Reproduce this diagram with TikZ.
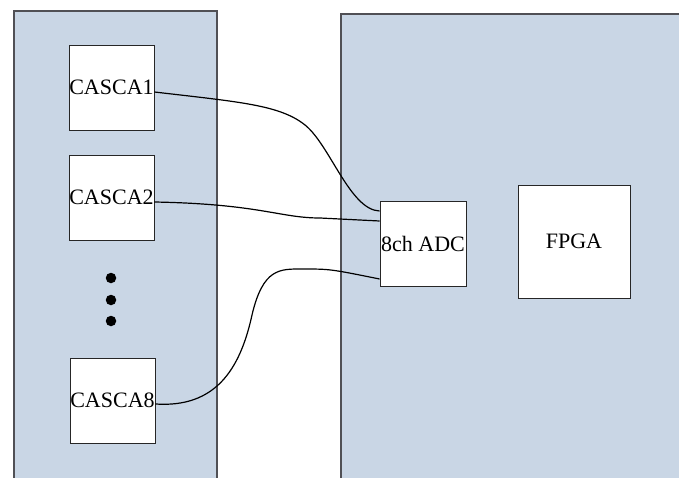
\documentclass[tikz,border=0pt]{standalone}
\usepackage{fontspec}
\setmainfont{Liberation Serif}
\usetikzlibrary{calc}
\definecolor{panelblue}{RGB}{201,214,229}
\definecolor{panelline}{RGB}{80,80,85}
\tikzset{
  panel/.style={fill=panelblue, draw=panelline, line width=1.3pt},
  blk/.style={draw=black!85, fill=white, line width=0.9pt, rectangle, inner sep=0pt,
    font=\fontsize{22}{24}\selectfont},
  wire/.style={draw=black, line width=1.2pt},
  dotmark/.style={circle, fill=black, inner sep=0pt, minimum size=10.5pt}
}
\begin{document}
\begin{tikzpicture}[x=1pt,y=-1pt]
\clip (0,0) rectangle (679,478);
\useasboundingbox (0,0) rectangle (679,478);
% panels
\path[panel] (14,495) -- (14,11) -- (217,11) -- (217,495);
\path[panel] (341,495) -- (341,14) -- (695,14) -- (695,495);
% blocks
\node[blk, minimum width=85pt, minimum height=85pt] (c1) at (111.5,87.5) {CASCA1};
\node[blk, minimum width=85pt, minimum height=85pt] (c2) at (111.5,197.5) {CASCA2};
\node[blk, minimum width=85pt, minimum height=85pt] (c8) at (112.5,400.5) {CASCA8};
\node[blk, minimum width=86pt, minimum height=85pt] (adc) at (423,243.5) {8ch ADC};
\node[blk, minimum width=112pt, minimum height=113pt] (fpga) at (574,241.5) {FPGA};
% dots
\node[dotmark] (d1) at (111,278) {};
\node[dotmark] (d2) at (111,300) {};
\node[dotmark] (d3) at (111,321) {};
% connector end points
\coordinate (s1) at ([yshift=-4.5pt]c1.east);
\coordinate (s2) at ([yshift=-4.5pt]c2.east);
\coordinate (s8) at ([yshift=-3.5pt]c8.east);
\coordinate (e1) at ([yshift=32.5pt]adc.west);
\coordinate (e2) at ([yshift=22.5pt]adc.west);
\coordinate (e8) at ([yshift=-35.5pt]adc.west);
% wires
\draw[wire] (s1) .. controls (240,102) and (280,105) .. (305,125)
  .. controls (330,145) and (350,210) .. (e1);
\draw[wire] (s2) .. controls (260,204) and (280,218) .. (320,218) -- (e2);
\draw[wire] (s8) .. controls (215,408) and (240,370) .. (252,315)
  .. controls (263,268) and (280,269) .. (302,269)
  .. controls (330,269) .. (e8);
\end{tikzpicture}
\end{document}
